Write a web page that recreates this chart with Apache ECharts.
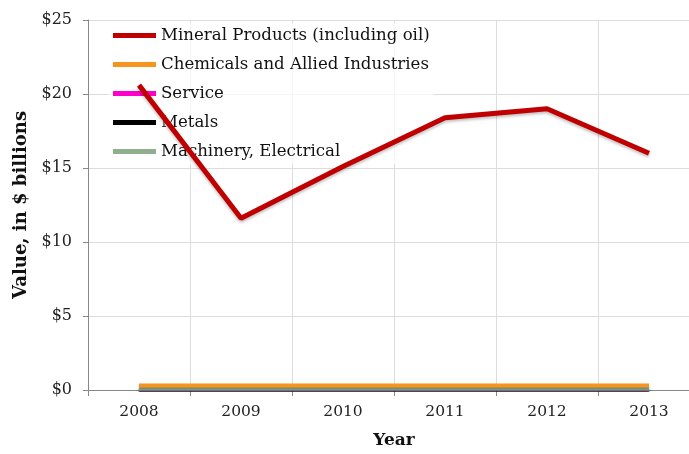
<!DOCTYPE html>
<html><head><meta charset="utf-8">
<script src="https://cdn.jsdelivr.net/npm/echarts@6/dist/echarts.min.js"></script>
<style>html,body{margin:0;padding:0;background:#fff}#c{width:689px;height:454px}</style>
</head><body><div id="c"></div>
<script>
const years = ['2008','2009','2010','2011','2012','2013'];
const mineral = [20.6, 11.6, 15.1, 18.4, 19.0, 16.0];
const chemicals = [0.3, 0.3, 0.3, 0.3, 0.3, 0.3];
const service = [0.04, 0.04, 0.04, 0.04, 0.04, 0.04];
const metals = [0.05, 0.05, 0.05, 0.05, 0.05, 0.05];
const machinery = [0.08, 0.08, 0.08, 0.08, 0.08, 0.08];
const seriesNames = ['Mineral Products (including oil)','Chemicals and Allied Industries','Service','Metals','Machinery, Electrical'];
const seriesColors = ['#C00000','#F7941D','#FF00CC','#000000','#8FAF8F'];
const seriesData = [mineral, chemicals, service, metals, machinery];
const zOrder = [10, 8, 4, 5, 6];
const font = 'DejaVu Serif';
const chart = echarts.init(document.getElementById('c'));
chart.setOption({
  animation:false,
  grid:{left:88, top:20, width:612, height:370, containLabel:false, outerBoundsMode:'none'},
  legend:{
    orient:'vertical', left:109, top:23, itemGap:12,
    itemWidth:43, itemHeight:5, icon:'rect',
    backgroundColor:'rgba(255,255,255,0.72)', padding:[4,4,4,4],
    textStyle:{fontFamily:font, fontSize:16.6, color:'#111'},
    data:seriesNames
  },
  xAxis:{type:'category', data:years, boundaryGap:true,
    axisLine:{lineStyle:{color:'#888'}}, axisTick:{show:true, length:6, lineStyle:{color:'#888'}},
    splitLine:{show:true, lineStyle:{color:'#ddd'}},
    axisLabel:{fontFamily:font, fontSize:15.5, color:'#222', margin:14},
    name:'Year', nameLocation:'middle', nameGap:42,
    nameTextStyle:{fontFamily:font, fontSize:17, fontWeight:'bold', color:'#111'}
  },
  yAxis:{type:'value', min:0, max:25, interval:5,
    axisLine:{show:true, lineStyle:{color:'#888'}}, axisTick:{show:true, length:5, lineStyle:{color:'#888'}},
    splitLine:{show:true, lineStyle:{color:'#ddd'}},
    axisLabel:{fontFamily:font, fontSize:16, color:'#222', formatter:v=>'$'+v, margin:16},
    name:'Value, in $ billions', nameLocation:'middle', nameGap:56,
    nameTextStyle:{fontFamily:font, fontSize:18, fontWeight:'bold', color:'#111'}
  },
  series: seriesNames.map((n,i)=>({
    name:n, type:'line', data:seriesData[i], symbol:'none',
    z: zOrder[i],
    lineStyle:{color:seriesColors[i], width:i===0?5:4, shadowColor:'rgba(0,0,0,0.25)', shadowBlur:3, shadowOffsetY:2},
    itemStyle:{color:seriesColors[i]}
  }))
});
</script></body></html>
